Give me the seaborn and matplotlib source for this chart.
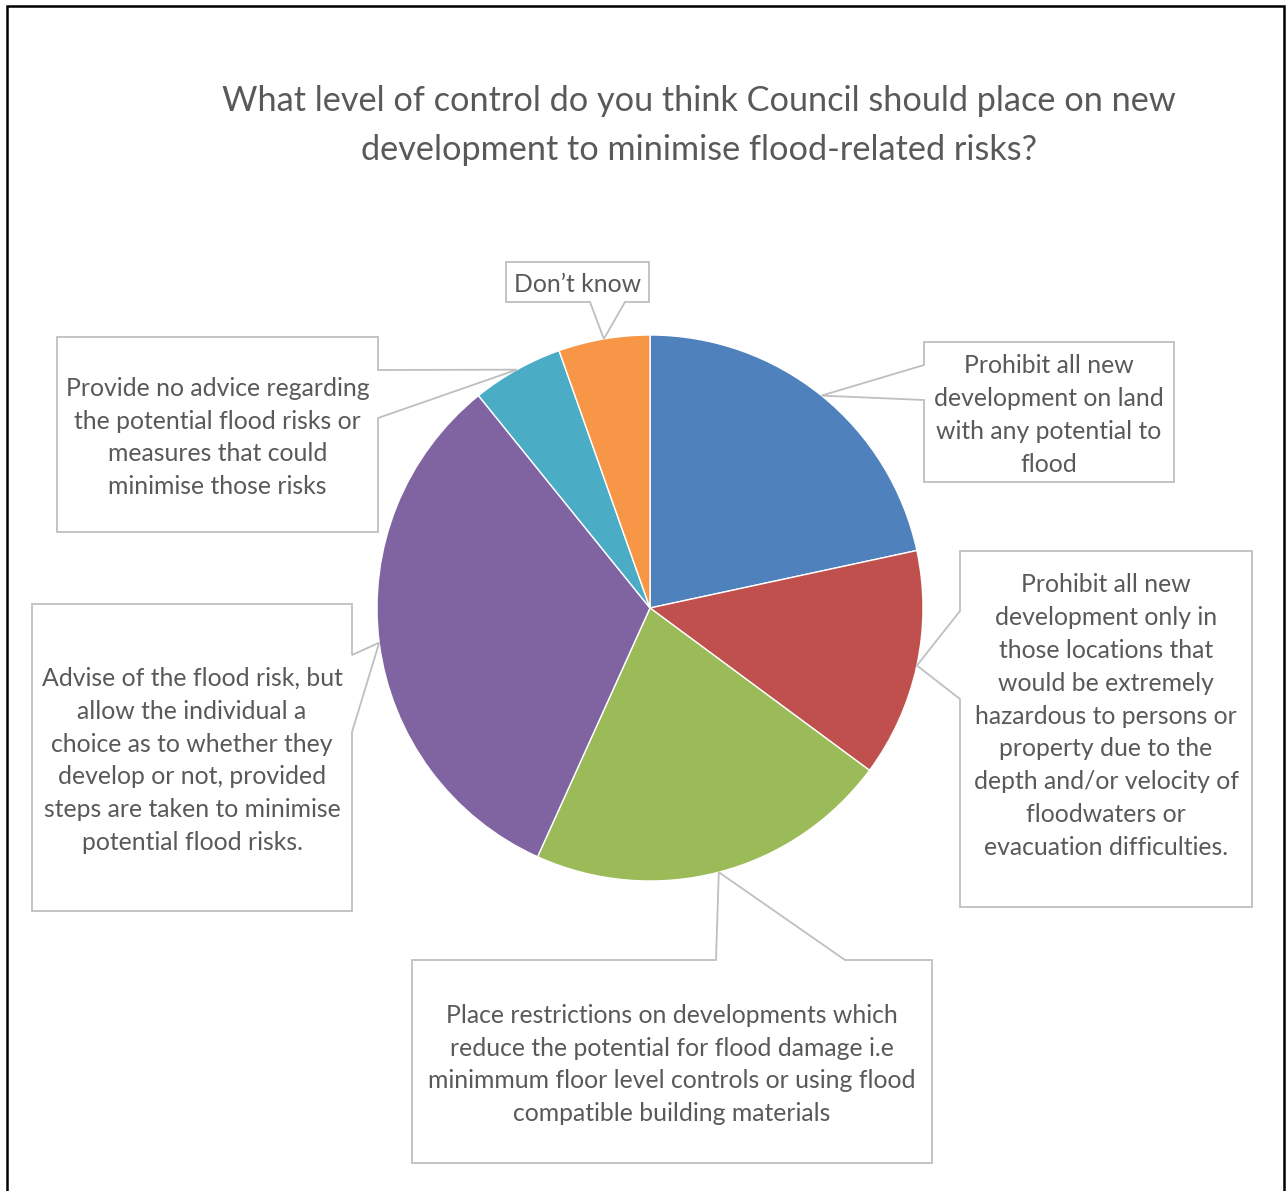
import matplotlib
matplotlib.use("Agg")
import numpy as np
import matplotlib.pyplot as plt
from matplotlib.patches import Polygon
import seaborn as sns

# Survey responses, in pie order (clockwise from 12 o'clock)
categories = [
    "Prohibit all new\ndevelopment on land\nwith any potential to\nflood",
    "Prohibit all new\ndevelopment only in\nthose locations that\nwould be extremely\n"
    "hazardous to persons or\nproperty due to the\ndepth and/or velocity of\n"
    "floodwaters or\nevacuation difficulties.",
    "Place restrictions on developments which\nreduce the potential for flood damage i.e\n"
    "minimmum floor level controls or using flood\ncompatible building materials",
    "Advise of the flood risk, but\nallow the individual a\nchoice as to whether they\n"
    "develop or not, provided\nsteps are taken to minimise\npotential flood risks.",
    "Provide no advice regarding\nthe potential flood risks or\nmeasures that could\n"
    "minimise those risks",
    "Don\u2019t know",
]
responses = [8, 5, 8, 12, 2, 2]
slice_colors = ["#4F81BD", "#C0504D", "#9BBB59", "#8064A2", "#4BACC6", "#F79646"]

title = ("What level of control do you think Council should place on new\n"
         "development to minimise flood-related risks?")

sns.set_theme(style="white")
plt.rcParams["font.family"] = ["Lato", "DejaVu Sans"]

W, H = 1287, 1191
fig = plt.figure(figsize=(W / 100, H / 100), dpi=100)
ax = fig.add_axes([0, 0, 1, 1])

# pixel layout helpers (y measured downward from the top edge)
def px(x, y):
    return (x, H - y)

cx, cy, R = 650, 608, 273
palette = sns.color_palette(slice_colors)
wedges, _ = ax.pie(responses, colors=palette, startangle=90, counterclock=False,
                   center=px(cx, cy), radius=R,
                   wedgeprops=dict(edgecolor="white", linewidth=1.0))
ax.set_xlim(0, W)
ax.set_ylim(0, H)
ax.set_aspect("equal")
ax.axis("off")

# callout boxes: rectangle (x0, y0, x1, y1), side carrying the pointer,
# where the pointer leaves that side, and vertical text offset in pixels
callouts = [
    ((924, 342, 1174, 482), "left", (365, 400), 3),
    ((960, 551, 1252, 907), "left", (611, 699), -13),
    ((412, 960, 932, 1163), "top", (716, 845), 3),
    ((32, 604, 352, 911), "right", (655, 732), 3),
    ((57, 337, 378, 532), "right", (370, 418), 3),
    ((506, 262, 649, 302), "bottom", (590, 625), 2),
]

for w, label, (rect, side, (a, b), dy) in zip(wedges, categories, callouts):
    mid = np.deg2rad((w.theta1 + w.theta2) / 2)
    tip = (w.center[0] + w.r * np.cos(mid), w.center[1] + w.r * np.sin(mid))
    x0, y0, x1, y1 = rect
    TL, TR, BR, BL = px(x0, y0), px(x1, y0), px(x1, y1), px(x0, y1)
    if side == "top":
        verts = [TL, px(a, y0), tip, px(b, y0), TR, BR, BL]
    elif side == "right":
        verts = [TL, TR, px(x1, a), tip, px(x1, b), BR, BL]
    elif side == "bottom":
        verts = [TL, TR, BR, px(b, y1), tip, px(a, y1), BL]
    else:
        verts = [TL, TR, BR, BL, px(x0, b), tip, px(x0, a)]
    ax.add_patch(Polygon(verts, closed=True, facecolor="white",
                         edgecolor="#BFBFBF", linewidth=1.3, zorder=3,
                         joinstyle="miter"))
    ax.text((x0 + x1) / 2, H - (y0 + y1) / 2 - dy, label, ha="center",
            va="center", fontsize=17.8, color="#595959", linespacing=1.52,
            zorder=4)

ax.text(699, H - 125.5, title, ha="center", va="center", fontsize=24.7,
        color="#595959", linespacing=1.62)

# outer frame (open at the bottom)
ax.plot([7, 7, 1284, 1284], [-5, H - 6, H - 6, -5], color="black",
        linewidth=1.8, solid_joinstyle="miter", clip_on=False)

fig.savefig("out.png", dpi=100, facecolor="white")
